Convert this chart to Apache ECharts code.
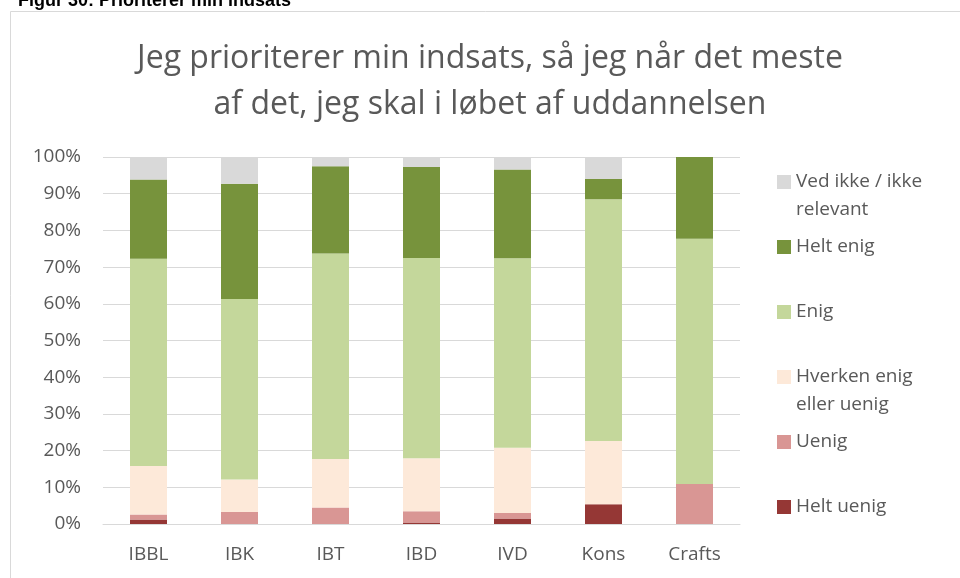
<!DOCTYPE html>
<html>
<head>
<meta charset="utf-8">
<script src="https://cdn.jsdelivr.net/npm/echarts@6/dist/echarts.min.js"></script>
<style>
  html, body { margin: 0; padding: 0; background: #fff; }
  #main { width: 960px; height: 578px; }
</style>
</head>
<body>
<div id="main"></div>
<script>
// kategorier og andele (%)
var categories = ['IBBL', 'IBK', 'IBT', 'IBD', 'IVD', 'Kons', 'Crafts'];
var heltUenig = [1.2, 0, 0, 0.4, 1.5, 5.4, 0];
var uenig = [1.4, 3.3, 4.5, 3.1, 1.5, 0, 10.9];
var hverken = [13.2, 8.8, 13.2, 14.4, 17.8, 17.2, 0];
var enig = [56.5, 49.2, 56.0, 54.6, 51.6, 65.9, 66.8];
var heltEnig = [21.6, 31.4, 23.8, 24.8, 24.2, 5.5, 22.3];
var vedIkke = [6.1, 7.3, 2.5, 2.7, 3.4, 6.0, 0];
var yTicks = [0, 10, 20, 30, 40, 50, 60, 70, 80, 90, 100];

var font = 'Open Sans';
var grey = '#595959';

var seriesDefs = [
    { name: 'Helt uenig', data: heltUenig, color: '#953735' },
    { name: 'Uenig', data: uenig, color: '#d99694' },
    { name: 'Hverken enig eller uenig', data: hverken, color: '#fde9d9' },
    { name: 'Enig', data: enig, color: '#c4d79b' },
    { name: 'Helt enig', data: heltEnig, color: '#77933c' },
    { name: 'Ved ikke / ikke relevant', data: vedIkke, color: '#d9d9d9' }
];

// en legend pr. punkt, så placeringen passer med Excel-figuren
var legendDefs = [
    { name: 'Ved ikke / ikke relevant', label: '\nVed ikke / ikke\nrelevant', top: 140 },
    { name: 'Helt enig', label: 'Helt enig', top: 233 },
    { name: 'Enig', label: 'Enig', top: 298 },
    { name: 'Hverken enig eller uenig', label: '\nHverken enig\neller uenig', top: 335 },
    { name: 'Uenig', label: 'Uenig', top: 428 },
    { name: 'Helt uenig', label: 'Helt uenig', top: 493 }
];

var chart = echarts.init(document.getElementById('main'), null, { renderer: 'canvas' });

var option = {
    animation: false,
    backgroundColor: '#fff',
    title: {
        text: 'Jeg prioriterer min indsats, så jeg når det meste\naf det, jeg skal i løbet af uddannelsen',
        left: 490,
        top: 36,
        textAlign: 'center',
        padding: 0,
        textStyle: { fontFamily: font, fontSize: 32, fontWeight: 'normal', color: grey, lineHeight: 46 }
    },
    graphic: [
        {
            type: 'rect',
            shape: { x: 10.5, y: 11.5, width: 970, height: 600 },
            style: { fill: 'none', stroke: '#d9d9d9', lineWidth: 1 },
            silent: true
        },
        {
            type: 'text',
            x: 18,
            y: -8,
            style: { text: 'Figur 30: Prioriterer min indsats', font: 'bold 18px "Liberation Sans", Arial', fill: '#000' },
            silent: true
        }
    ],
    legend: legendDefs.map(function (d) {
        return {
            data: [d.name],
            orient: 'vertical',
            left: 777,
            top: d.top,
            padding: 0,
            itemWidth: 14,
            itemHeight: 14,
            icon: 'rect',
            selectedMode: false,
            formatter: function () { return d.label; },
            textStyle: { fontFamily: font, fontSize: 19, color: grey, lineHeight: 28 }
        };
    }),
    grid: { left: 103, right: 220, top: 157, bottom: 54 },
    xAxis: {
        type: 'category',
        data: categories,
        axisLine: { lineStyle: { color: '#d9d9d9', width: 1 } },
        axisTick: { show: false },
        axisLabel: { fontFamily: font, fontSize: 19, color: grey, margin: 21 }
    },
    yAxis: {
        type: 'value',
        min: yTicks[0],
        max: yTicks[yTicks.length - 1],
        interval: yTicks[1] - yTicks[0],
        axisLine: { show: false },
        axisTick: { show: false },
        splitLine: { lineStyle: { color: '#d9d9d9', width: 1 } },
        axisLabel: { fontFamily: font, fontSize: 19, color: grey, margin: 22, formatter: '{value}%' }
    },
    series: seriesDefs.map(function (s) {
        return {
            name: s.name,
            type: 'bar',
            stack: 'total',
            barWidth: 37,
            data: s.data,
            itemStyle: { color: s.color }
        };
    })
};

chart.setOption(option);
</script>
</body>
</html>
